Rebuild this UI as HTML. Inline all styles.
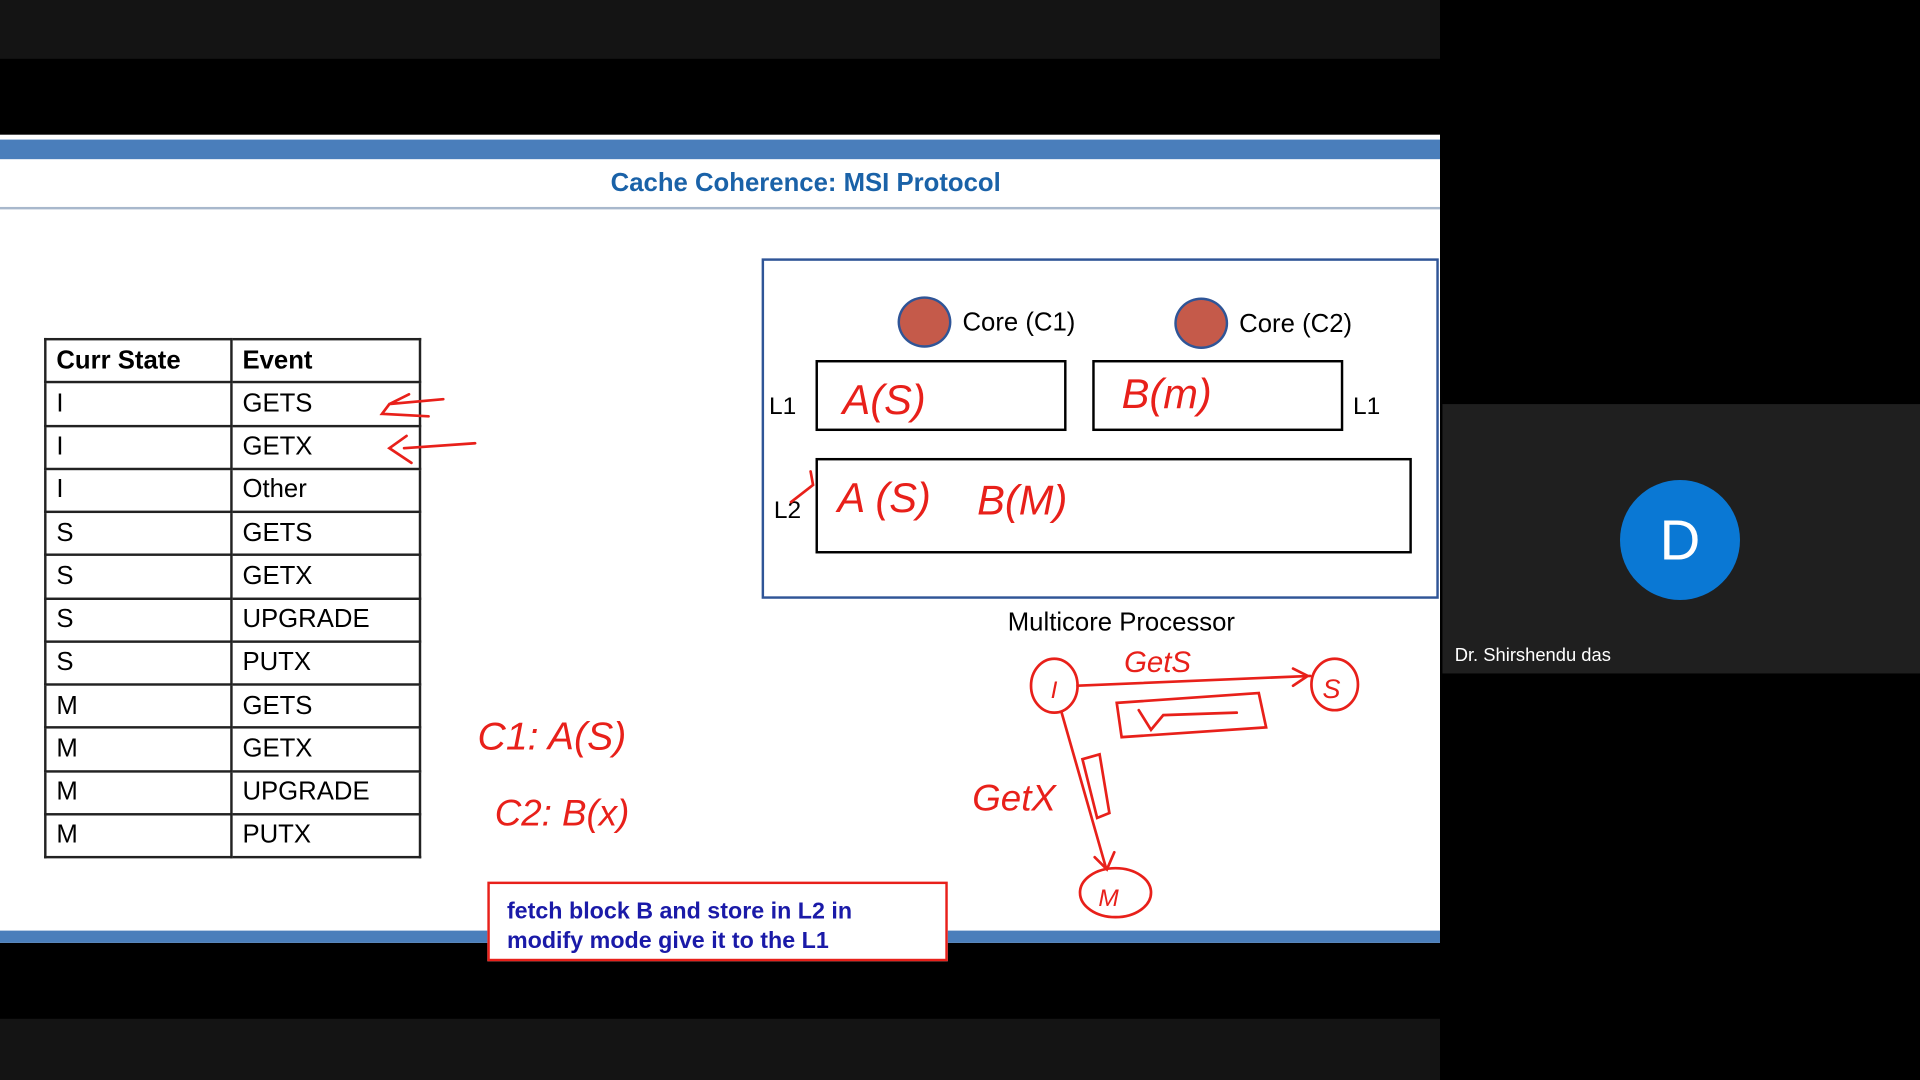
<!DOCTYPE html>
<html><head><meta charset="utf-8"><style>
html,body{margin:0;padding:0;background:#000;overflow:hidden;width:1920px;height:1080px}
#w{position:absolute;left:0;top:0;width:1568px;height:882px;transform:scale(1.22449);transform-origin:0 0;background:#000;font-family:"Liberation Sans",sans-serif}
.a{position:absolute}
table{border-collapse:collapse;position:absolute;left:36px;top:276px;table-layout:fixed;width:306px}
td{border:2px solid #222;height:35.25px;padding:0 0 0 8px;font-size:21px;color:#000;box-sizing:border-box}
tr{height:35.25px}
tr:first-child td{font-weight:bold}
.box{position:absolute;border:2.5px solid #000;box-sizing:border-box}
.hw{fill:none;stroke:#e8201a;stroke-width:2.2;stroke-linecap:round}
</style></head><body><div id="w">
<div class="a" style="left:0;top:0;width:1176px;height:48px;background:#141414"></div>
<div class="a" style="left:0;top:832px;width:1176px;height:50px;background:#141414"></div>
<div class="a" style="left:0;top:110px;width:1176px;height:660px;background:#fff"></div>
<div class="a" style="left:0;top:114px;width:1176px;height:16px;background:#4a7ebb"></div>
<div class="a" style="left:0;top:760px;width:1176px;height:10px;background:#4a7ebb"></div>
<div class="a" style="left:0;top:169px;width:1176px;height:2px;background:#a8b8cc"></div>
<div class="a" style="left:0;top:138px;width:1316px;text-align:center;font-size:21px;font-weight:bold;color:#1a62a8">Cache Coherence: MSI Protocol</div>
<div class="a" style="left:1178px;top:330px;width:390px;height:220px;background:#1f1f1f"></div>
<div class="a" style="left:1323px;top:392px;width:98px;height:98px;border-radius:50%;background:#0a78d4;color:#fff;font-size:46px;text-align:center;line-height:98px">D</div>
<div class="a" style="left:1188px;top:527px;color:#fff;font-size:15px">Dr. Shirshendu das</div>
<table>
<colgroup><col style="width:152px"><col style="width:154px"></colgroup>
<tr><td>Curr State</td><td>Event</td></tr>
<tr><td>I</td><td>GETS</td></tr><tr><td>I</td><td>GETX</td></tr><tr><td>I</td><td>Other</td></tr>
<tr><td>S</td><td>GETS</td></tr><tr><td>S</td><td>GETX</td></tr><tr><td>S</td><td>UPGRADE</td></tr><tr><td>S</td><td>PUTX</td></tr>
<tr><td>M</td><td>GETS</td></tr><tr><td>M</td><td>GETX</td></tr><tr><td>M</td><td>UPGRADE</td></tr><tr><td>M</td><td>PUTX</td></tr>
</table>
<div class="a" style="left:622px;top:211px;width:553px;height:278px;border:2px solid #2f5597;box-sizing:border-box"></div>
<div class="a" style="left:733px;top:242px;width:40px;height:38px;border-radius:50%;background:#c55a4a;border:2px solid #2f5597"></div>
<div class="a" style="left:959px;top:243px;width:40px;height:38px;border-radius:50%;background:#c55a4a;border:2px solid #2f5597"></div>
<div class="a" style="left:786px;top:252px;font-size:21px">Core (C1)</div>
<div class="a" style="left:1012px;top:253px;font-size:21px">Core (C2)</div>
<div class="box" style="left:666px;top:294px;width:205px;height:58px"></div>
<div class="box" style="left:892px;top:294px;width:205px;height:58px"></div>
<div class="box" style="left:666px;top:374px;width:487px;height:78px"></div>
<div class="a" style="left:628px;top:321px;font-size:20px">L1</div>
<div class="a" style="left:1105px;top:321px;font-size:20px">L1</div>
<div class="a" style="left:632px;top:406px;font-size:20px">L2</div>
<div class="a" style="left:823px;top:497px;font-size:21px">Multicore Processor</div>
<div class="a" style="left:398px;top:720px;width:376px;height:65px;border:2px solid #e8201a;box-sizing:border-box;background:#fff;color:#1a1aa8;font-size:19px;font-weight:bold;padding:11px 0 0 14px;line-height:24px">fetch block B and store in L2 in<br>modify mode give it to the L1</div>
<svg class="a" style="left:0;top:0" width="1568" height="882">
<g fill="#e8201a" font-style="italic" font-size="34" font-family="Liberation Sans, sans-serif">
<text x="688" y="338">A(S)</text><text x="916" y="333">B(m)</text>
<text x="684" y="418">A (S)</text><text x="798" y="420">B(M)</text>
<text x="390" y="612" font-size="32">C1: A(S)</text>
<text x="404" y="674" font-size="30">C2:  B(x)</text>
<text x="918" y="549" font-size="24">GetS</text>
<text x="794" y="662" font-size="30">GetX</text>
<text x="897" y="740" font-size="20">M</text>
<text x="858" y="570" font-size="20">I</text>
<text x="1080" y="570" font-size="22">S</text>
</g>
<g class="hw">
<path d="M362 326 L318 330 L312 338 L350 340 M318 330 L334 322"/>
<path d="M388 362 L330 366 M332 356 L318 366 L336 378"/>
<path d="M646 410 L664 396 L662 385"/>
<ellipse cx="861" cy="560" rx="19" ry="22"/>
<ellipse cx="1090" cy="559" rx="19" ry="21"/>
<ellipse cx="911" cy="729" rx="29" ry="20"/>
<path d="M880 560 L1070 552 M1056 546 L1068 552 L1056 560"/>
<path d="M867 582 L903 708 M894 700 L904 710 L910 696"/>
<path d="M912 574 L1028 566 L1034 594 L916 602 Z"/>
<path d="M930 580 L940 596 L950 584 L1010 582"/>
<path d="M884 620 L898 616 L906 664 L896 668 Z"/>
</g>
</svg>
</div></body></html>
